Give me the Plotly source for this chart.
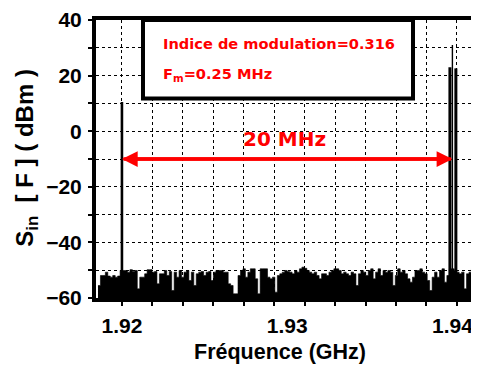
import numpy as np
import plotly.graph_objects as go

# ---- data ----
# spectral lines (GHz, dBm)
peak_freqs = [1.92, 1.93985, 1.94, 1.94021]
peak_levels = [10.5, 23.0, 31.0, 22.6]
peak_widths = [2.6, 3.0, 1.4, 3.0]

# noise floor (dBm), read left to right
noise_start_ghz = 1.91855
noise_step_ghz = 0.0001487
noise_levels = [
    -55.5, -51.9, -51.9, -50.7, -52.1, -52.5, -51.9, -52.5, -52.1, -50.1, -50.1, -50.1, -50.7,
    -49.8, -50.5, -50.1, -56.7, -52.5, -52.5, -51.3, -49.8, -49.8, -50.7, -50.5, -54.9, -51.3,
    -51.3, -50.1, -51.9, -50.5, -57.3, -50.7, -52.5, -50.1, -52.5, -50.7, -50.1, -53.7, -50.7,
    -55.5, -51.3, -50.7, -50.5, -51.9, -50.7, -50.5, -53.7, -50.7, -50.1, -50.1, -50.1,
    -50.7, -50.7, -54.9, -55.5, -58.5, -58.5, -51.9, -50.1, -49.5, -52.5, -50.7, -49.5, -49.5,
    -53.1, -58.5, -49.5, -49.5, -49.5, -52.5, -53.1, -52.5, -57.9, -51.9, -51.3, -50.7, -50.1,
    -50.5, -50.7, -51.3, -50.1, -50.7, -49.5, -48.9, -49.3, -50.1, -50.7, -51.3, -50.7, -51.9,
    -53.1, -51.3, -51.3, -51.9, -50.7, -50.1, -49.5, -49.5, -50.1, -51.3, -50.7, -51.3, -51.9,
    -50.7, -51.3, -55.5, -51.3, -50.1, -50.7, -51.9, -50.1, -49.5, -53.1, -50.7, -49.5, -51.9,
    -50.1, -50.7, -50.1, -50.7, -55.5, -51.9, -49.5, -50.7, -50.1, -51.3, -53.1, -54.3, -52.5,
    -50.1, -50.1, -49.5, -50.7, -51.3, -53.7, -57.3, -52.5, -50.7, -52.5, -50.1, -49.5, -54.3,
    -51.9, -49.5, -49.5, -50.1, -50.7, -51.3, -50.7, -56.7, -51.3, -50.7, -49.5, -50.1, -51.3,
]

x_tick_vals = [1.92, 1.93, 1.94]
x_tick_text = ["1.92", "1.93", "1.94"]
y_tick_vals = [40, 20, 0, -20, -40, -60]
x_range = [1.91843, 1.94161]
y_range = [-60, 40]
x_grid_step = 0.001843
floor_level = -60

info_line1 = "Indice de modulation=0.316"
info_line2 = "F<sub>m</sub>=0.25 MHz"
span_label = "20 MHz"

# ---- figure ----
noise_x = [noise_start_ghz + i * noise_step_ghz for i in range(len(noise_levels))]

fig = go.Figure()
fig.add_trace(go.Scatter(x=noise_x, y=[floor_level] * len(noise_x), mode="lines",
                         line=dict(width=0, color="black", shape="hv"), hoverinfo="skip",
                         showlegend=False))
fig.add_trace(go.Scatter(x=noise_x, y=noise_levels, mode="lines", fill="tonexty",
                         fillcolor="black", line=dict(width=0.6, color="black", shape="hv"),
                         showlegend=False))
for f, lvl, w in zip(peak_freqs, peak_levels, peak_widths):
    fig.add_trace(go.Scatter(x=[f, f], y=[floor_level, lvl], mode="lines",
                             line=dict(color="black", width=w), showlegend=False))

tick_font = dict(family="Liberation Sans, Arial", size=21, color="black", weight="bold")
grid_style = dict(showgrid=True, gridcolor="black", gridwidth=1, griddash="dot")

fig.update_xaxes(range=x_range, tickvals=x_tick_vals, ticktext=x_tick_text,
                 showgrid=False, ticks="", tickfont=tick_font, ticklabelstandoff=6,
                 ticklabeloverflow="allow",
                 showline=True, linecolor="black", linewidth=4, mirror=True, zeroline=False,
                 minor=dict(tick0=1.92, dtick=x_grid_step, ticks="outside", ticklen=4,
                            tickcolor="black", tickwidth=2, **grid_style))
fig.update_yaxes(range=y_range, tickvals=y_tick_vals, tickfont=tick_font,
                 ticks="outside", ticklen=4, tickwidth=2, tickcolor="black",
                 ticklabeloverflow="allow",
                 showline=True, linecolor="black", linewidth=4, mirror=False, zeroline=False,
                 ticklabelstandoff=2, **grid_style,
                 minor=dict(dtick=10, ticks="outside", ticklen=4, tickcolor="black",
                            tickwidth=2, **grid_style))

# info box
fig.add_shape(type="rect", xref="paper", yref="paper", x0=0.1227, x1=0.8277, y0=0.718, y1=1.0,
              line=dict(color="black", width=4), fillcolor="white", layer="above")
red_font = dict(family="DejaVu Sans", size=14.6, color="red", weight="bold")
fig.add_annotation(xref="paper", yref="paper", x=0.1697, y=0.914, text=info_line1,
                   showarrow=False, xanchor="left", yanchor="middle", font=red_font)
fig.add_annotation(xref="paper", yref="paper", x=0.1697, y=0.804, text=info_line2,
                   showarrow=False, xanchor="left", yanchor="middle", font=red_font)

# double arrow between carriers
for xa, xb in [(peak_freqs[0], peak_freqs[2]), (peak_freqs[2], peak_freqs[0])]:
    fig.add_annotation(x=xa, y=-10, ax=xb, ay=-10, xref="x", yref="y", axref="x", ayref="y",
                       showarrow=True, arrowhead=2, arrowsize=0.9, arrowwidth=3.5,
                       arrowcolor="red", text="")
fig.add_annotation(xref="paper", yref="paper", x=0.491, y=0.571, text=span_label,
                   showarrow=False, xanchor="center", yanchor="middle",
                   font=dict(family="DejaVu Sans", size=20, color="red", weight="bold"))

fig.add_annotation(xref="paper", yref="paper", x=-0.18, y=0.505,
                   text="S<sub>in</sub>  [ F ] ( dBm )", textangle=-90, showarrow=False,
                   xanchor="center", yanchor="middle",
                   font=dict(family="Liberation Sans, Arial", size=24, color="black",
                             weight="bold"))
fig.add_annotation(xref="paper", yref="paper", x=0.48, y=-0.196, text="Fréquence (GHz)",
                   showarrow=False, xanchor="center", yanchor="middle",
                   font=dict(family="Liberation Sans, Arial", size=21.5, color="black",
                             weight="bold"))

# the page body adds an 8 px offset, so the figure is 8 px smaller and margins shifted
fig.update_layout(width=471, height=359, margin=dict(l=88, r=0, t=10, b=69),
                  plot_bgcolor="white", paper_bgcolor="white", showlegend=False)

fig.write_html("out.html")
